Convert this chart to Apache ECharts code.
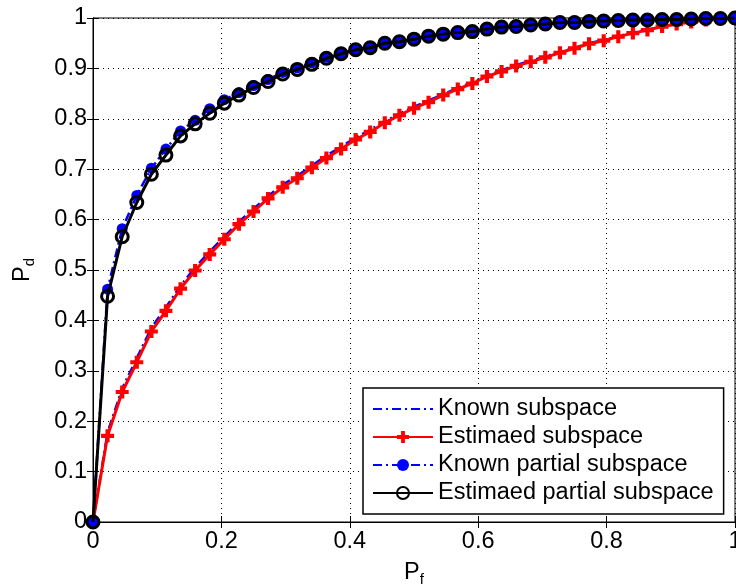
<!DOCTYPE html>
<html>
<head>
<meta charset="utf-8">
<script src="https://cdn.jsdelivr.net/npm/echarts@6/dist/echarts.min.js"></script>
<style>html,body{margin:0;padding:0;background:#fff}#c{width:736px;height:585px}</style>
</head>
<body>
<div id="c"></div>
<script>
var pf = [0,0.0227,0.0455,0.0682,0.0909,0.1136,0.1364,0.1591,0.1818,0.2045,0.2273,0.25,0.2727,0.2955,0.3182,0.3409,0.3636,0.3864,0.4091,0.4318,0.4545,0.4773,0.5,0.5227,0.5455,0.5682,0.5909,0.6136,0.6364,0.6591,0.6818,0.7045,0.7273,0.75,0.7727,0.7955,0.8182,0.8409,0.8636,0.8864,0.9091,0.9318,0.9545,0.9773,1];
var knownSub = [0,0.178,0.265,0.325,0.385,0.426,0.469,0.505,0.537,0.566,0.596,0.621,0.647,0.669,0.687,0.707,0.727,0.744,0.763,0.778,0.795,0.810,0.824,0.836,0.849,0.861,0.872,0.886,0.896,0.907,0.915,0.924,0.932,0.941,0.950,0.956,0.964,0.971,0.977,0.983,0.988,0.992,0.996,0.999,1];
var estSub = [0,0.171,0.258,0.317,0.378,0.419,0.463,0.499,0.531,0.561,0.591,0.616,0.642,0.664,0.682,0.703,0.722,0.740,0.759,0.774,0.792,0.807,0.821,0.833,0.847,0.859,0.870,0.884,0.894,0.905,0.913,0.922,0.931,0.940,0.949,0.955,0.963,0.970,0.976,0.983,0.988,0.992,0.996,0.999,1];
var knownPart = [0,0.462,0.582,0.648,0.702,0.740,0.776,0.797,0.820,0.838,0.852,0.866,0.878,0.892,0.901,0.911,0.922,0.930,0.938,0.942,0.951,0.954,0.959,0.965,0.969,0.972,0.974,0.979,0.982,0.984,0.986,0.988,0.991,0.992,0.993,0.994,0.995,0.996,0.997,0.997,0.998,0.998,0.999,0.999,1];
var estPart = [0,0.448,0.566,0.634,0.690,0.728,0.766,0.790,0.811,0.831,0.847,0.862,0.874,0.889,0.898,0.908,0.920,0.929,0.937,0.941,0.950,0.953,0.958,0.964,0.968,0.971,0.973,0.978,0.982,0.983,0.986,0.988,0.991,0.991,0.993,0.994,0.995,0.996,0.996,0.997,0.997,0.998,0.999,0.999,1];
var seriesNames = ['Known subspace','Estimaed subspace','Known partial subspace','Estimaed partial subspace'];
var xTicks = [0,0.2,0.4,0.6,0.8,1];
var yTicks = [0,0.1,0.2,0.3,0.4,0.5,0.6,0.7,0.8,0.9,1];

function pairs(ys){ return pf.map(function(x,i){ return [x, ys[i]]; }); }

var FONT = 'Liberation Sans, Arial, sans-serif';
var FS = 23.5;
var plus = 'path://M3.4,0H6.6V3.4H10V6.6H6.6V10H3.4V6.6H0V3.4H3.4Z';
var dashDot = [9,4,2,4];

var chart = echarts.init(document.getElementById('c'), null, {renderer:'canvas'});
chart.setOption({
  animation:false,
  backgroundColor:'#fff',
  textStyle:{fontFamily:FONT, color:'#000'},
  grid:{left:93, right:1, top:18, bottom:63, show:true, borderColor:'#000', borderWidth:1, containLabel:false, outerBoundsMode:'none'},
  legend:{
    orient:'vertical', left:363, top:388,
    backgroundColor:'#fff', borderColor:'#000', borderWidth:1.5,
    padding:[9,10,9,9], itemWidth:60, itemHeight:15, itemGap:4,
    textStyle:{fontFamily:FONT, fontSize:FS, color:'#000', lineHeight:24},
    data:[
      {name:seriesNames[0], itemStyle:{color:'rgba(0,0,0,0)', borderColor:'rgba(0,0,0,0)', borderWidth:0}},
      {name:seriesNames[1]},
      {name:seriesNames[2]},
      {name:seriesNames[3]}
    ]
  },
  xAxis:[{
    type:'value', min:0, max:1, interval:0.2,
    axisLine:{show:true, lineStyle:{color:'#000', width:1}},
    axisTick:{show:true, inside:true, length:6, lineStyle:{color:'#000'}},
    axisLabel:{fontSize:FS, color:'#000', fontFamily:FONT, margin:8,
      formatter:function(v){ var r=Math.round(v*10)/10; return xTicks.indexOf(r)>=0 ? String(r) : ''; }},
    splitLine:{show:true, lineStyle:{color:'#000', type:[1,4], width:1}},
    name:'{p|P}{s|f}', nameLocation:'middle', nameGap:36,
    nameTextStyle:{rich:{p:{fontSize:FS, fontFamily:FONT, color:'#000'}, s:{fontSize:15, fontFamily:FONT, color:'#000', padding:[14,0,0,0]}}}
  },{
    type:'value', min:0, max:1, interval:0.2, position:'top',
    axisLine:{show:true, lineStyle:{color:'#000'}},
    axisTick:{show:true, inside:true, length:6, lineStyle:{color:'#000'}},
    axisLabel:{show:false}, splitLine:{show:false}
  }],
  yAxis:[{
    type:'value', min:0, max:1, interval:0.1,
    axisLine:{show:true, lineStyle:{color:'#000', width:1}},
    axisTick:{show:true, inside:true, length:6, lineStyle:{color:'#000'}},
    axisLabel:{fontSize:FS, color:'#000', fontFamily:FONT, margin:6,
      formatter:function(v){ var r=Math.round(v*10)/10; return yTicks.indexOf(r)>=0 ? String(r) : ''; }},
    splitLine:{show:true, lineStyle:{color:'#000', type:[1,4], width:1}},
    name:'{p|P}{s|d}', nameLocation:'middle', nameGap:56, nameRotate:90,
    nameTextStyle:{rich:{p:{fontSize:FS, fontFamily:FONT, color:'#000'}, s:{fontSize:15, fontFamily:FONT, color:'#000', padding:[14,0,0,0]}}}
  },{
    type:'value', min:0, max:1, interval:0.1, position:'right',
    axisLine:{show:true, lineStyle:{color:'#000'}},
    axisTick:{show:true, inside:true, length:6, lineStyle:{color:'#000'}},
    axisLabel:{show:false}, splitLine:{show:false}
  }],
  series:[
    {name:seriesNames[0], type:'line', data:pairs(knownSub), showSymbol:false, symbol:'none',
     lineStyle:{color:'#0000ff', width:2.5, type:dashDot}, itemStyle:{color:'#0000ff'}, z:2},
    {name:seriesNames[1], type:'line', data:pairs(estSub), symbol:plus, symbolSize:13,
     lineStyle:{color:'#ff0000', width:3}, itemStyle:{color:'#ff0000'}, z:3},
    {name:seriesNames[2], type:'line', data:pairs(knownPart), symbol:'circle', symbolSize:11,
     lineStyle:{color:'#0000ff', width:2.5, type:dashDot}, itemStyle:{color:'#0000ff'}, z:4},
    {name:seriesNames[3], type:'line', data:pairs(estPart), symbol:'circle', symbolSize:12,
     lineStyle:{color:'#000', width:3}, itemStyle:{color:'rgba(0,0,0,0)', borderColor:'#000', borderWidth:3}, z:5}
  ]
});
</script>
</body>
</html>
